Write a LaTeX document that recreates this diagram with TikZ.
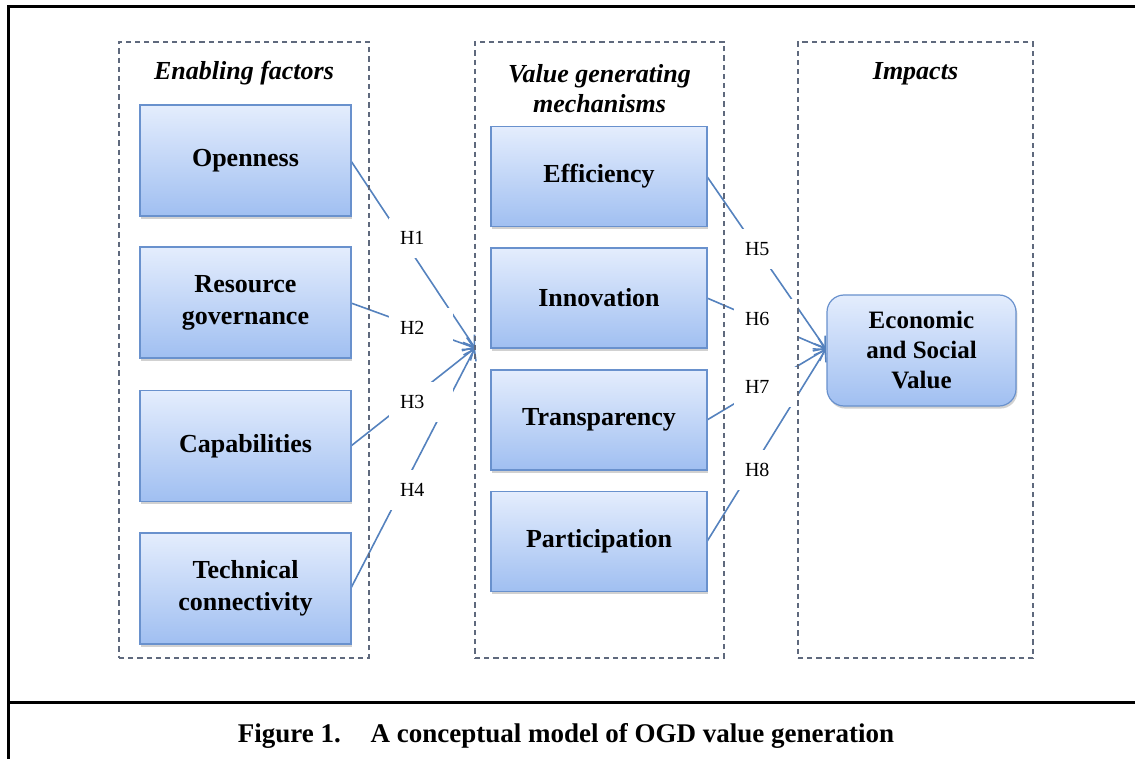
\documentclass[tikz,border=0pt]{standalone}
\usepackage{fontspec}
\setmainfont{Liberation Serif}
\usetikzlibrary{arrows.meta,shadows}
\definecolor{boxtop}{RGB}{228,237,253}
\definecolor{boxbot}{RGB}{160,191,241}
\definecolor{boxedge}{RGB}{105,145,205}
\definecolor{conn}{RGB}{85,130,190}
\definecolor{dashc}{RGB}{95,105,125}
\begin{document}
\begin{tikzpicture}[x=0.5pt,y=-0.5pt,
  blk/.style={draw=boxedge, line width=0.6pt, top color=boxtop, bottom color=boxbot,
    font=\fontsize{13}{16}\selectfont\bfseries, align=center, inner sep=0pt,
    drop shadow={shadow xshift=0.7pt, shadow yshift=-1.3pt, opacity=0.3, fill=black!60}},
  lbox/.style={blk, minimum width=105.5pt, minimum height=55.5pt},
  mbox/.style={blk, minimum width=108pt, minimum height=50pt},
  ebox/.style={blk, rounded corners=8.5pt, minimum width=94.5pt, minimum height=55.5pt,
    font=\fontsize{12.5}{15}\selectfont\bfseries},
  cont/.style={draw=dashc, line width=0.9pt, dash pattern=on 2.6pt off 2pt, minimum height=308pt, inner sep=0pt},
  ttl/.style={font=\fontsize{13}{15}\selectfont\bfseries\itshape, align=center, inner sep=0pt},
  hl/.style={fill=white, text width=21pt, align=left, inner xsep=5.5pt, inner ysep=0pt,
    minimum height=20pt, font=\fontsize{10}{12}\selectfont},
  conn/.style={draw=conn, line width=0.8pt, -{Straight Barb[length=5pt,width=7pt]}},
  frame/.style={line width=1.5pt, draw=black}
]
\useasboundingbox (0,0) rectangle (1135,759);
\clip (0,0) rectangle (1135,759);
% outer frame
\draw[frame] (8,780) -- (8,7) -- (1150,7);
\draw[frame] (8,702) -- (1150,702);
% convergence points
\coordinate (t1) at (475,348);
\coordinate (t2) at (826,349);
% boxes (positions)
\path (245.5,160.5) coordinate (popen) (245.5,302.5) coordinate (pres)
      (245.5,446) coordinate (pcap) (245.5,588.5) coordinate (ptech);
% connectors
\draw[conn] (351,161) -- (t1);
\draw[conn] (351,303) -- (t1);
\draw[conn] (351,446) -- (t1);
\draw[conn] (351,588) -- (t1);
\draw[conn] (707,176.5) -- (t2);
\draw[conn] (707,298) -- (t2);
\draw[conn] (707,420) -- (t2);
\draw[conn] (707,541.5) -- (t2);
% labels
\node[hl] (h1) at (421,238) {H1};
\node[hl] (h2) at (421,328) {H2};
\node[hl] (h3) at (421,402) {H3};
\node[hl] (h4) at (421,490) {H4};
\node[hl] (h5) at (766,249) {H5};
\node[hl] (h6) at (766,319) {H6};
\node[hl] (h7) at (766,387) {H7};
\node[hl] (h8) at (766,470) {H8};
% containers
\node[cont, minimum width=125pt] (c1) at (244,350) {};
\node[cont, minimum width=124.5pt] (c2) at (599.5,350) {};
\node[cont, minimum width=117.5pt] (c3) at (915.5,350) {};
\node[ttl] (tt1) at (244,73) {Enabling factors};
\node[ttl] (tt2) at (599.5,89) {Value generating\\mechanisms};
\node[ttl] (tt3) at (915.5,74) {Impacts};
% blocks
\node[lbox] (open) at (popen) {Openness};
\node[lbox] (res) at (pres) {Resource\\governance};
\node[lbox] (cap) at (pcap) {Capabilities};
\node[lbox] (tech) at (ptech) {Technical\\connectivity};
\node[mbox] (eff) at (599,176.5) {Efficiency};
\node[mbox] (inn) at (599,298) {Innovation};
\node[mbox] (tra) at (599,420) {Transparency};
\node[mbox] (par) at (599,541.5) {Participation};
\node[ebox] (eco) at (921.5,350.5) {Economic\\and Social\\Value};
% caption
\node[font=\fontsize{13.5}{16}\selectfont\bfseries, inner sep=0pt] (fig) at (566,736)
  {Figure 1.\hspace{1.1em}A conceptual model of OGD value generation};
\end{tikzpicture}
\end{document}
